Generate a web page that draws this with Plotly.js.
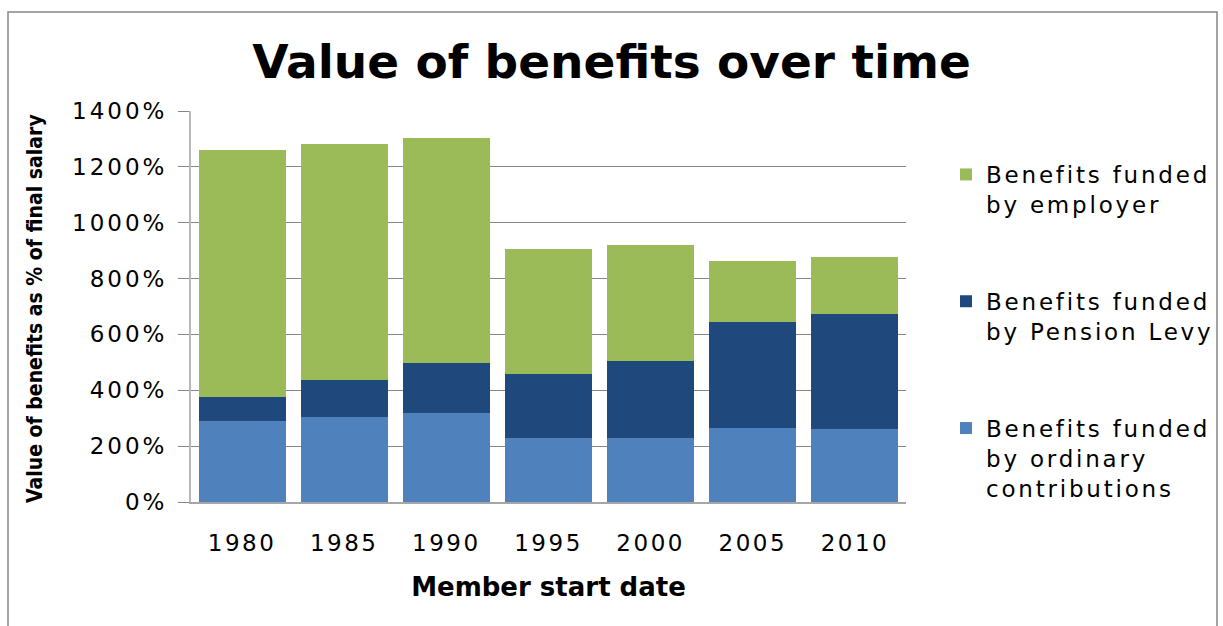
<!DOCTYPE html>
<html>
<head>
<meta charset="utf-8">
<script src="https://cdn.plot.ly/plotly-3.0.1.min.js"></script>
<style>
  html, body { margin: 0; padding: 0; background: #ffffff; }
  #chart { width: 1223px; height: 626px; }
  .legendtext { letter-spacing: 2.8px; }
  .ytick text { letter-spacing: 3px; }
  .xtick text { letter-spacing: 2.5px; }
</style>
</head>
<body>
<div id="chart"></div>
<script>
const years = ['1980', '1985', '1990', '1995', '2000', '2005', '2010'];
const ordinary = [291, 305, 320, 230, 230, 266, 262];
const levy = [86, 133, 179, 229, 276, 380, 412];
const employer = [884, 845, 805, 448, 415, 218, 204];

const seriesNames = [
  'Benefits funded<br>by ordinary<br>contributions',
  'Benefits funded<br>by Pension Levy',
  'Benefits funded<br>by employer'
];
const seriesColors = ['#4F81BD', '#1F497D', '#9BBB59'];
const seriesValues = [ordinary, levy, employer];
const legendRanks = [3, 2, 1];

const traces = seriesValues.map((vals, i) => ({
  type: 'bar',
  x: years,
  y: vals,
  name: seriesNames[i],
  legendgroup: 'g' + i,
  legendrank: legendRanks[i],
  marker: { color: seriesColors[i], line: { width: 0 } },
  hoverinfo: 'x+y+name'
}));

const W = 1223, H = 626;
const mL = 191, mR = 317, mT = 111, mB = 124;
const pw = W - mL - mR, ph = H - mT - mB;
const px = v => (v - mL) / pw;
const py = v => (H - mB - v) / ph;

const layout = {
  width: W,
  height: H,
  margin: { l: mL, r: mR, t: mT, b: mB, pad: 0, autoexpand: false },
  paper_bgcolor: '#ffffff',
  plot_bgcolor: '#ffffff',
  barmode: 'stack',
  bargap: 0.147,
  font: { family: 'DejaVu Sans, Verdana, sans-serif', color: '#000000' },
  title: {
    text: 'Value of benefits over time',
    font: { family: 'DejaVu Sans, Verdana, sans-serif', size: 47, weight: 'bold', color: '#000000' },
    xref: 'container', yref: 'container',
    x: 611.5 / W, xanchor: 'center',
    y: 1 - 62 / H, yanchor: 'middle'
  },
  xaxis: {
    type: 'category',
    showline: true, linecolor: '#A6A6A6', linewidth: 1.5,
    ticks: '', showgrid: false,
    tickfont: { size: 23, color: '#000000' },
    ticklabelstandoff: 20,
    title: {
      text: 'Member start date',
      font: { size: 26, weight: 'bold', color: '#000000' },
      standoff: 22
    }
  },
  yaxis: {
    range: [0, 1400],
    dtick: 200,
    tick0: 0,
    ticksuffix: '%',
    showgrid: true, gridcolor: '#868686', gridwidth: 1,
    zeroline: false,
    showline: true, linecolor: '#B8B8B8', linewidth: 2,
    ticks: 'outside', ticklen: 11, tickcolor: '#868686', tickwidth: 1,
    tickfont: { size: 23, color: '#000000' },
    ticklabelstandoff: 6
  },
  legend: {
    x: px(946), xanchor: 'left',
    y: py(153), yanchor: 'top',
    traceorder: 'grouped',
    tracegroupgap: 64,
    valign: 'top',
    itemwidth: 30,
    font: { size: 23, color: '#000000' },
    bgcolor: 'rgba(0,0,0,0)'
  },
  annotations: [{
    text: 'Value of benefits as % of final salary',
    textangle: -90,
    xref: 'paper', yref: 'paper',
    x: px(35), y: py(309),
    xanchor: 'center', yanchor: 'middle',
    showarrow: false,
    font: { family: 'Liberation Sans Narrow, DejaVu Sans Condensed, Arial Narrow, sans-serif', size: 21, weight: 'bold', color: '#000000' }
  }],
  shapes: [{
    type: 'rect', xref: 'paper', yref: 'paper',
    x0: px(8), x1: px(1217), y0: py(640), y1: py(12),
    line: { color: '#868686', width: 1.5 },
    fillcolor: 'rgba(0,0,0,0)',
    layer: 'below'
  }],
  showlegend: true
};

Plotly.newPlot('chart', traces, layout, { displayModeBar: false, staticPlot: true });
</script>
</body>
</html>
